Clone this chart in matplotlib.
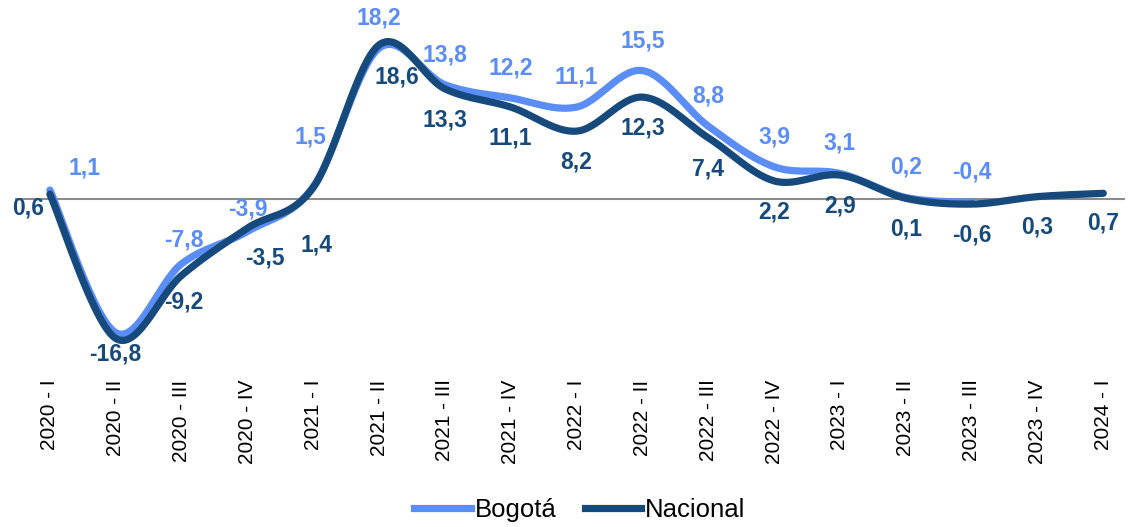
import numpy as np
import matplotlib
matplotlib.use("Agg")
import matplotlib.pyplot as plt
from matplotlib.lines import Line2D

plt.rcParams['font.family'] = ['Liberation Sans', 'DejaVu Sans']

quarters = ["2020 - I", "2020 - II", "2020 - III", "2020 - IV",
            "2021 - I", "2021 - II", "2021 - III", "2021 - IV",
            "2022 - I", "2022 - II", "2022 - III", "2022 - IV",
            "2023 - I", "2023 - II", "2023 - III", "2023 - IV", "2024 - I"]
bogota = [1.1, -16.1, -7.8, -3.9, 1.5, 18.2, 13.8, 12.2, 11.1, 15.5, 8.8, 3.9, 3.1, 0.2, -0.4]
nacional = [0.6, -16.8, -9.2, -3.5, 1.4, 18.6, 13.3, 11.1, 8.2, 12.3, 7.4, 2.2, 2.9, 0.1, -0.6, 0.3, 0.7]
# which series values carry a label (Bogotá 2020-II has none)
bogota_labeled = [True, False] + [True] * 13

c_bog = "#5B8DF6"
c_nac = "#174A7C"


def smooth(y, n=30):
    # Catmull-Rom through the points, like a spreadsheet "smoothed line"
    y = np.asarray(y, float)
    x = np.arange(len(y), dtype=float)
    p = np.concatenate([[y[0]], y, [y[-1]]])
    q = np.concatenate([[x[0]], x, [x[-1]]])
    xs, ys = [], []
    for i in range(len(y) - 1):
        t = np.linspace(0, 1, n, endpoint=False)
        for arr, out in ((q, xs), (p, ys)):
            p0, p1, p2, p3 = arr[i], arr[i + 1], arr[i + 2], arr[i + 3]
            out.append(0.5 * (2 * p1 + (-p0 + p2) * t
                              + (2 * p0 - 5 * p1 + 4 * p2 - p3) * t ** 2
                              + (-p0 + 3 * p1 - 3 * p2 + p3) * t ** 3))
    xs.append([x[-1]])
    ys.append([y[-1]])
    return np.concatenate(xs), np.concatenate(ys)


def fmt(v):
    return f"{v:.1f}".replace(".", ",")


fig = plt.figure(figsize=(11.3, 5.27), dpi=100)
ax = fig.add_axes([15 / 1130, 1 - 360 / 527, 1110 / 1130, 340 / 527])
ax.set_xlim(-0.53, 16.33)
ax.set_ylim(-19.4, 21.6)

ax.axhline(0, color="#8c8c8c", lw=1.5, zorder=1)

xb, yb = smooth(bogota)
xn, yn = smooth(nacional)
ax.plot(xb, yb, color=c_bog, lw=5.2, solid_capstyle="round", zorder=2)
ax.plot(xn, yn, color=c_nac, lw=5.2, solid_capstyle="round", zorder=3)

# label offsets in pixels (dx, dy)
bog_off = {0: (35, 22), 2: (2, 24), 3: (0, 22), 4: (-3, 50)}
nac_off = {0: (-22, -14), 1: (0, -16), 2: (2, -27), 3: (17, -30), 4: (3, -57),
           5: (18, -32), 15: (0, -30), 16: (0, -30)}

for i, v in enumerate(bogota):
    if not bogota_labeled[i]:
        continue
    dx, dy = bog_off.get(i, (0, 30))
    ax.annotate(fmt(v), (i, v), xytext=(dx * 0.72, dy * 0.72), textcoords="offset points",
                ha="center", va="center", color=c_bog, fontsize=16.5, fontweight="bold")
for i, v in enumerate(nacional):
    dx, dy = nac_off.get(i, (0, -31))
    ax.annotate(fmt(v), (i, v), xytext=(dx * 0.72, dy * 0.72), textcoords="offset points",
                ha="center", va="center", color=c_nac, fontsize=16.5, fontweight="bold")

ax.set_xticks(range(len(quarters)))
ax.set_xticklabels(quarters, rotation=90, fontsize=15)
ax.tick_params(axis="x", length=0, pad=14)
ax.set_yticks([])
for s in ax.spines.values():
    s.set_visible(False)

handles = [Line2D([], [], color=c_bog, lw=5.2), Line2D([], [], color=c_nac, lw=5.2)]
fig.legend(handles, ["Bogotá", "Nacional"], loc="center", bbox_to_anchor=(0.513, 0.032),
           ncol=2, frameon=False, fontsize=18.5, handlelength=2.2, handletextpad=0.15,
           columnspacing=1.1)

fig.savefig("out.png", dpi=100)
